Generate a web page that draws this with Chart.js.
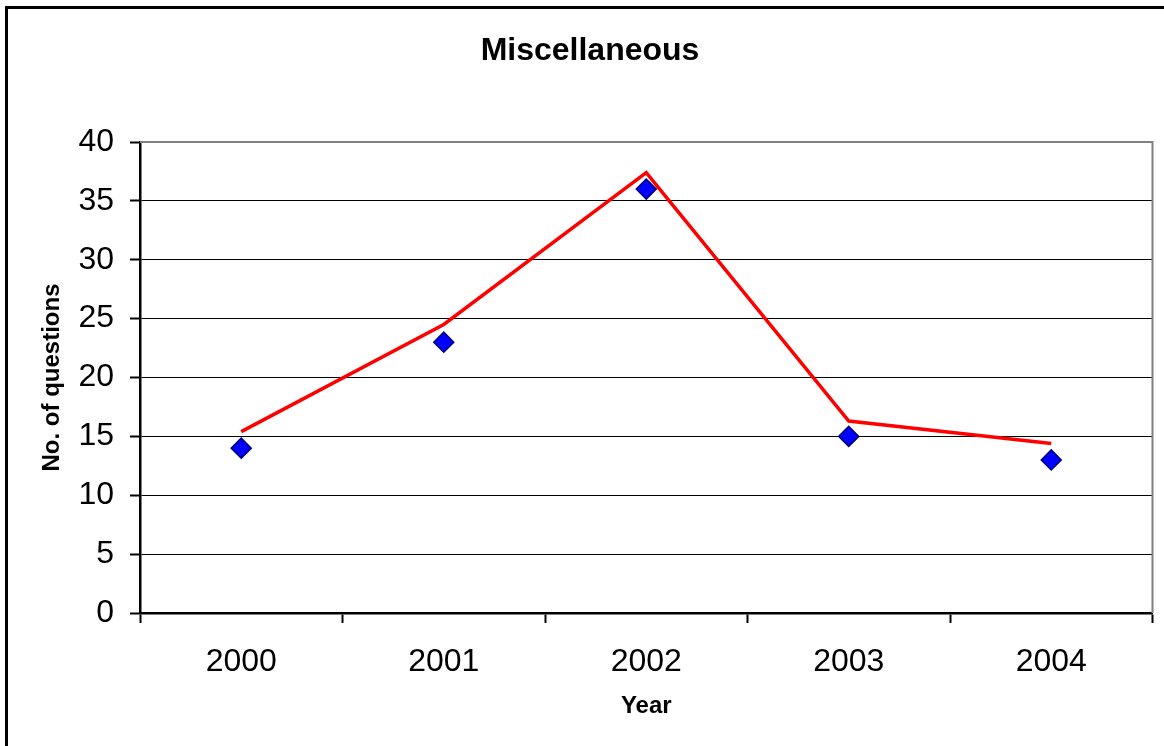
<!DOCTYPE html>
<html lang="en">
<head>
    <meta charset="UTF-8">
    <title>Miscellaneous</title>
    <script src="https://cdn.jsdelivr.net/npm/chart.js"></script>
    <style>
        html, body {
            margin: 0;
            padding: 0;
            overflow: hidden;
            background-color: #fff;
        }
        .frame {
            position: absolute;
            left: 5px;
            top: 6px;
            width: 1300px;
            height: 900px;
            border: 3px solid #000;
        }
        canvas {
            position: absolute;
            left: 0;
            top: 0;
        }
    </style>
</head>
<body>
    <div class="frame"></div>
    <canvas id="myChart" width="1164" height="746"></canvas>

    <script>
        // Data
        const years = ['2000', '2001', '2002', '2003', '2004'];
        const questions = [14, 23, 36, 15, 13];        // blue diamonds
        const lineValues = [15.4, 24.5, 37.4, 16.3, 14.4]; // red line
        const yMin = 0;
        const yMax = 40;
        const yStep = 5;

        Chart.defaults.font.family = "Arial, 'Liberation Sans', sans-serif";
        Chart.defaults.color = '#000';

        // gray border on top and right of the plot area
        const plotBorder = {
            id: 'plotBorder',
            beforeDatasetsDraw(chart) {
                const { ctx, chartArea } = chart;
                ctx.save();
                ctx.strokeStyle = '#808080';
                ctx.lineWidth = 2;
                ctx.beginPath();
                ctx.moveTo(chartArea.left, chartArea.top);
                ctx.lineTo(chartArea.right, chartArea.top);
                ctx.lineTo(chartArea.right, chartArea.bottom);
                ctx.stroke();
                ctx.restore();
            }
        };

        const ctx = document.getElementById('myChart').getContext('2d');
        const myChart = new Chart(ctx, {
            type: 'line',
            data: {
                labels: years,
                datasets: [
                    {
                        label: 'Trend',
                        data: lineValues,
                        borderColor: '#ff0000',
                        borderWidth: 3.5,
                        pointRadius: 0,
                        tension: 0,
                        fill: false
                    },
                    {
                        label: 'No. of questions',
                        data: questions,
                        showLine: false,
                        pointStyle: 'rectRot',
                        pointRadius: 10,
                        pointBackgroundColor: '#0000ff',
                        pointBorderColor: '#000080',
                        pointBorderWidth: 1.5
                    }
                ]
            },
            options: {
                responsive: false,
                animation: false,
                layout: {
                    padding: { left: 26, top: 0, right: 10, bottom: 0 }
                },
                plugins: {
                    legend: { display: false },
                    tooltip: { enabled: false },
                    title: {
                        display: true,
                        text: 'Miscellaneous',
                        font: { size: 32, weight: 'bold' },
                        padding: { top: 32, bottom: 71.6 }
                    }
                },
                scales: {
                    x: {
                        offset: true,
                        afterFit: (scale) => { scale.height = 133; },
                        grid: {
                            offset: true,
                            drawOnChartArea: false,
                            drawTicks: true,
                            tickLength: 10,
                            tickColor: '#000',
                            tickWidth: 2
                        },
                        border: { color: '#000', width: 2.5 },
                        ticks: {
                            font: { size: 32 },
                            padding: 20
                        },
                        title: {
                            display: true,
                            text: 'Year',
                            font: { size: 24, weight: 'bold' },
                            padding: { top: 0, bottom: 25 }
                        }
                    },
                    y: {
                        min: yMin,
                        max: yMax,
                        afterFit: (scale) => { scale.width = 114; },
                        grid: {
                            color: (c) => (c.tick && c.tick.value === yMax ? '#808080' : '#000'),
                            lineWidth: 1,
                            drawTicks: true,
                            tickLength: 10,
                            tickColor: '#000',
                            tickWidth: 2
                        },
                        border: { color: '#000', width: 2.5 },
                        ticks: {
                            stepSize: yStep,
                            font: { size: 32 },
                            padding: 16
                        },
                        title: {
                            display: true,
                            text: 'No. of questions',
                            font: { size: 24, weight: 'bold' },
                            padding: { top: 12, bottom: 0 }
                        }
                    }
                }
            },
            plugins: [plotBorder]
        });
    </script>
</body>
</html>
